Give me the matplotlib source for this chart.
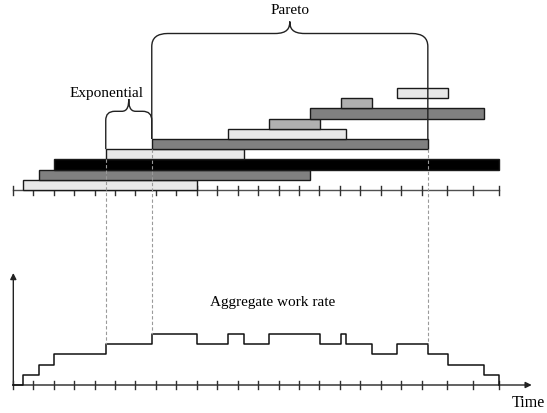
import numpy as np
import matplotlib
matplotlib.use("Agg")
import matplotlib.pyplot as plt
from matplotlib.path import Path
from matplotlib.patches import PathPatch

# ---------------- data (time units) ----------------
job_start = [0.5, 1.3, 2.0, 4.55, 6.8, 10.55, 12.55, 14.55, 16.05, 18.8]
job_end = [9.0, 14.55, 23.8, 11.3, 20.3, 16.3, 15.05, 23.05, 17.55, 21.3]
job_shade = ["light", "dark", "black", "light", "dark",
             "light", "medium", "dark", "medium", "light"]
tick_times = [0, 1, 2, 3, 4, 5, 6, 7, 8, 9, 10, 11, 12, 13, 14, 15, 16, 17,
              18, 19, 20, 21.25, 22.51, 23.77]
label_pareto = "Pareto"
label_expo = "Exponential"
label_rate = "Aggregate work rate"
label_time = "Time"

shade_colors = {"light": "#e8e8e8", "medium": "#b0b0b0",
                "dark": "#808080", "black": "#000000"}

# ---------------- layout ----------------
PXT = 20.45      # pixels per time unit
X0 = 12.7        # pixel x of time 0
TOP_AXIS_Y = 191.0
ROW_H = 10.2
BOT_AXIS_Y = 386.0
LEVEL_H = 10.25

def px(d):
    return d / PXT

fig = plt.figure(figsize=(5.47, 4.14), dpi=100)
ax = fig.add_axes([0, 0, 1, 1])
ax.set_xlim(-X0 / PXT, (547 - X0) / PXT)
ax.set_ylim(414, 0)
ax.axis("off")

serif = ["Liberation Serif", "DejaVu Serif"]

# ---------------- job bars ----------------
starts = np.array(job_start)
ends = np.array(job_end)
rows = np.arange(len(starts))
row_bottom = TOP_AXIS_Y - ROW_H * rows
row_top = row_bottom - ROW_H
ax.barh(row_bottom - ROW_H / 2, ends - starts, left=starts, height=ROW_H,
        color=[shade_colors[s] for s in job_shade], edgecolor="#1a1a1a",
        linewidth=1.0, zorder=3)

# ---------------- top time axis ----------------
ax.plot([tick_times[0], tick_times[-1]], [TOP_AXIS_Y, TOP_AXIS_Y],
        color="#505050", lw=1.0, zorder=2)
for t in tick_times:
    ax.plot([t, t], [TOP_AXIS_Y - 4.5, TOP_AXIS_Y + 4.5], color="#303030",
            lw=1.0, zorder=2)

# ---------------- aggregate work rate ----------------
bps = np.unique(np.concatenate([starts, ends]))

def level_after(t):
    return int(np.sum((starts <= t) & (ends > t)))

def level_before(t):
    return int(np.sum((starts < t) & (ends >= t)))

step_x = np.concatenate([[0.0], bps])
step_lvl = np.array([0] + [level_after(b) for b in bps])
ax.plot(step_x, BOT_AXIS_Y - LEVEL_H * step_lvl, drawstyle="steps-post",
        color="#111111", lw=1.1, zorder=4)

# bottom axis with arrow
ax.annotate("", xy=((531.7 - X0) / PXT, BOT_AXIS_Y),
            xytext=(tick_times[0], BOT_AXIS_Y),
            arrowprops=dict(arrowstyle="-|>", color="#222222", lw=1.0,
                            mutation_scale=9, shrinkA=0, shrinkB=0), zorder=3)
ax.annotate("", xy=(0.03, 274), xytext=(0.03, BOT_AXIS_Y),
            arrowprops=dict(arrowstyle="-|>", color="#222222", lw=1.0,
                            mutation_scale=9, shrinkA=0, shrinkB=0), zorder=3)
for t in tick_times:
    ax.plot([t, t], [BOT_AXIS_Y - 4.5, BOT_AXIS_Y + 4.5], color="#303030",
            lw=1.0, zorder=3)

# ---------------- dashed guide lines ----------------
guides = [(job_start[3], row_bottom[3]), (job_start[4], row_bottom[4]),
          (job_end[4], row_bottom[4])]
for gx, gy in guides:
    lvl = max(level_after(gx), level_before(gx))
    ax.plot([gx, gx], [gy, BOT_AXIS_Y - LEVEL_H * lvl], color="#9a9a9a",
            lw=0.8, linestyle=(0, (3, 2)), zorder=5)

# ---------------- braces ----------------
def brace(xl, xr, yl, yr, yh, tip_y, rx, ry, tdx):
    xm = (xl + xr) / 2
    dy = yh - tip_y
    verts = [(xl, yl), (xl, yh + ry),
             (xl, yh), (xl + px(rx), yh),
             (xm - px(tdx), yh),
             (xm - px(tdx * 0.15), yh), (xm, yh - dy * 0.45), (xm, tip_y),
             (xm, yh - dy * 0.45), (xm + px(tdx * 0.15), yh), (xm + px(tdx), yh),
             (xr - px(rx), yh),
             (xr, yh), (xr, yh + ry),
             (xr, yr)]
    codes = [Path.MOVETO, Path.LINETO,
             Path.CURVE3, Path.CURVE3,
             Path.LINETO,
             Path.CURVE4, Path.CURVE4, Path.CURVE4,
             Path.CURVE4, Path.CURVE4, Path.CURVE4,
             Path.LINETO,
             Path.CURVE3, Path.CURVE3,
             Path.LINETO]
    ax.add_patch(PathPatch(Path(verts, codes), fill=False, edgecolor="#222222",
                           lw=1.0, zorder=6))
    return xm

xm_p = brace(job_start[4], job_end[4], row_top[4], row_top[4],
             34.5, 22.5, 16, 13, 15)
xm_e = brace(job_start[3], job_start[4], row_top[3], row_top[4],
             112.3, 100.0, 9, 9, 7)

ax.text(xm_p, 10.5, label_pareto, ha="center", va="center", fontsize=11,
        family=serif)
ax.text((107 - X0) / PXT, 93.5, label_expo, ha="center", va="center",
        fontsize=11, family=serif)
ax.text((272.5 - X0) / PXT, 302.5, label_rate, ha="center", va="center",
        fontsize=11, family=serif)
ax.text((511.5 - X0) / PXT, 403, label_time, ha="left", va="center",
        fontsize=11.5, family=serif)

fig.savefig("out.png", dpi=100)
